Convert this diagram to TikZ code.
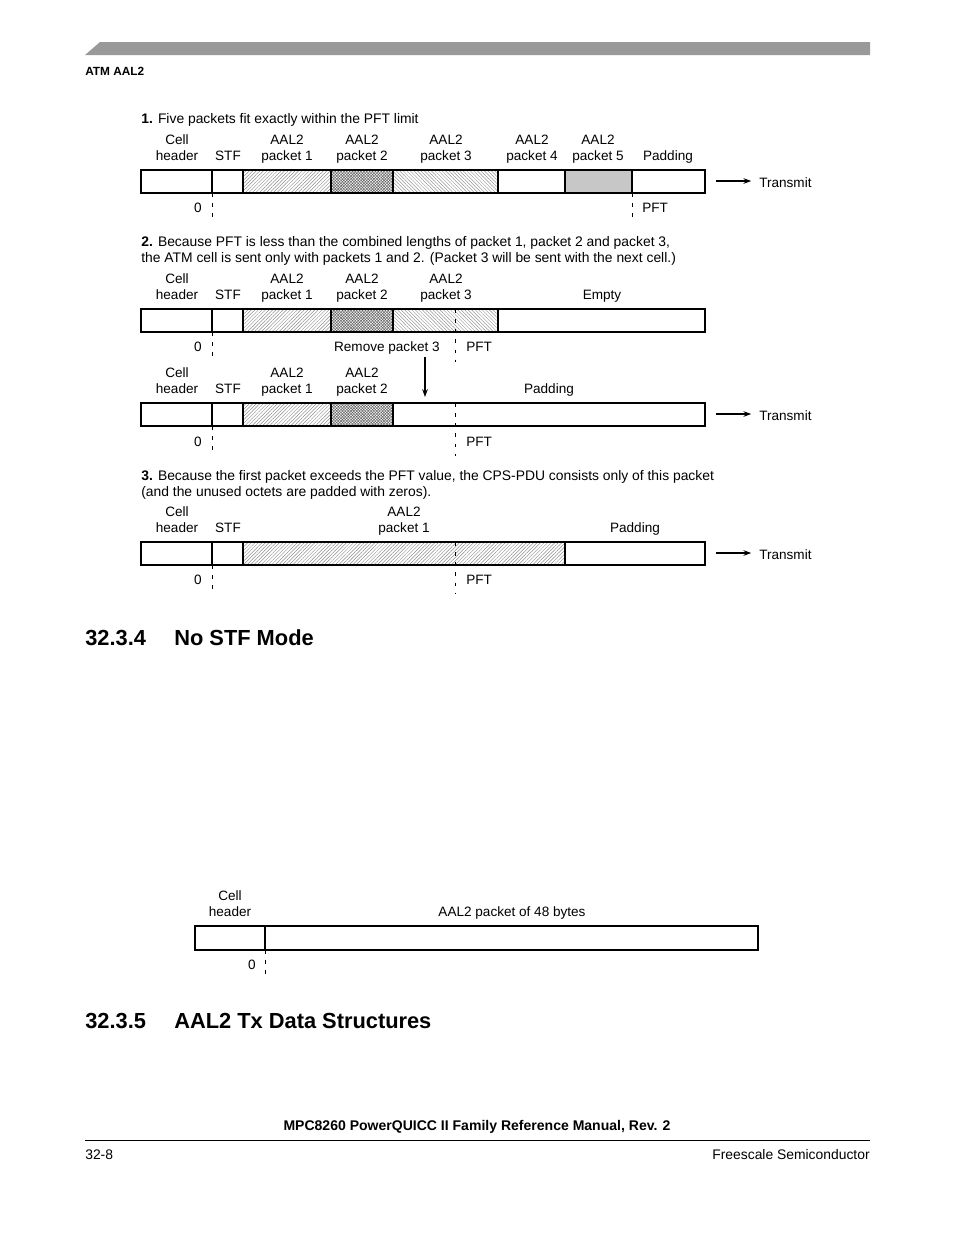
\documentclass[tikz,border=0pt]{standalone}
\usepackage{fontspec}
\setmainfont{Liberation Sans}
\usepackage{tikz}
\usetikzlibrary{arrows.meta, patterns.meta}

\tikzset{
  lbl/.style={font=\fontsize{8.7}{10.3}\selectfont, align=center, inner sep=0pt, yshift=-0.9pt},
  txt/.style={font=\fontsize{8.9}{10.3}\selectfont, align=left, inner sep=0pt, yshift=-0.8pt},
  heading/.style={font=\fontsize{14}{16}\selectfont\bfseries, inner sep=0pt},
  cellbox/.style={draw=black, line width=0.7pt},
  pkta/.style={pattern={Lines[angle=45,distance=1.6pt,line width=0.3pt]}, pattern color=black!45},
  pktb/.style={pattern={Hatch[angle=45,distance=1.3pt,line width=0.35pt]}, pattern color=black!60},
  pktc/.style={pattern={Lines[angle=-45,distance=1.6pt,line width=0.3pt]}, pattern color=black!42},
  pkte/.style={fill=black!22},
  pft/.style={line width=0.5pt, dash pattern=on 2.5pt off 4pt},
  sendarrow/.style={line width=0.7pt, -{Stealth[length=5pt,width=3.6pt]}}
}

\begin{document}
\begin{tikzpicture}[x=0.6415pt, y=-0.6415pt]
\useasboundingbox (0,0) rectangle (954,1235);

% page header
\fill[black!40] (85,55) -- (100,42) -- (870,42) -- (870,55) -- cycle;
\node[font=\fontsize{7.6}{9}\selectfont\bfseries, inner sep=0pt, anchor=base west] (chap) at (85,75) {ATM AAL2};

% ---- case 1
\node[txt, anchor=base west] (cap1) at (141,122) {\textbf{1.} Five packets fit exactly within the PFT limit};
\node[lbl, anchor=base] (ch1) at (177,159) {Cell\\header};
\node[lbl, anchor=base] (stf1) at (228,159) {STF};
\node[lbl, anchor=base] (pa1) at (287,159) {AAL2\\packet 1};
\node[lbl, anchor=base] (pb1) at (362,159) {AAL2\\packet 2};
\node[lbl, anchor=base] (pc1) at (446,159) {AAL2\\packet 3};
\node[lbl, anchor=base] (pd1) at (532,159) {AAL2\\packet 4};
\node[lbl, anchor=base] (pe1) at (598,159) {AAL2\\packet 5};
\node[lbl, anchor=base] (pad1) at (668,159) {Padding};
\path[pkta] (243,170) rectangle (331,193);
\path[pktb] (331,170) rectangle (393,193);
\path[pktc] (393,170) rectangle (498,193);
\path[pkte] (565,170) rectangle (632,193);
\draw[cellbox] (141,170) rectangle (705,193);
\foreach \x in {212,243,331,393,498,565,632}
  \draw[cellbox] (\x,170) -- (\x,193);
\draw[pft] (212,193) -- (212,221);
\draw[pft] (632,193) -- (632,221);
\node[lbl, anchor=base east] (zero1) at (202,211) {0};
\node[lbl, anchor=base west] (pft1) at (642,211) {PFT};
\coordinate (tx1s) at (716,181);
\node[lbl, anchor=west] (tx1) at (759,181) {Transmit};
\draw[sendarrow, shorten >=5pt] (tx1s) -- (tx1.west |- tx1s);

% ---- case 2
\node[txt, anchor=base west] (cap2) at (141,261) {\textbf{2.} Because PFT is less than the combined lengths of packet 1, packet 2 and packet 3,\\the ATM cell is sent only with packets 1 and 2. (Packet 3 will be sent with the next cell.)};
\node[lbl, anchor=base] (ch2) at (177,298) {Cell\\header};
\node[lbl, anchor=base] (stf2) at (228,298) {STF};
\node[lbl, anchor=base] (pa2) at (287,298) {AAL2\\packet 1};
\node[lbl, anchor=base] (pb2) at (362,298) {AAL2\\packet 2};
\node[lbl, anchor=base] (pc2) at (446,298) {AAL2\\packet 3};
\node[lbl, anchor=base] (emp2) at (602,298) {Empty};
\path[pkta] (243,309) rectangle (331,332);
\path[pktb] (331,309) rectangle (393,332);
\path[pktc] (393,309) rectangle (498,332);
\draw[cellbox] (141,309) rectangle (705,332);
\foreach \x in {212,243,331,393,498}
  \draw[cellbox] (\x,309) -- (\x,332);
\draw[pft] (212,332) -- (212,361);
\draw[pft] (455,309) -- (455,362);
\node[lbl, anchor=base east] (zero2) at (202,350) {0};
\node[lbl, anchor=base east] (rm) at (440,350) {Remove packet 3};
\node[lbl, anchor=base west] (pft2) at (466,350) {PFT};
\coordinate (rms) at (425,357);
\coordinate (rme) at (425,397);
\draw[sendarrow] (rms) -- (rme);

\node[lbl, anchor=base] (ch3) at (177,392) {Cell\\header};
\node[lbl, anchor=base] (stf3) at (228,392) {STF};
\node[lbl, anchor=base] (pa3) at (287,392) {AAL2\\packet 1};
\node[lbl, anchor=base] (pb3) at (362,392) {AAL2\\packet 2};
\node[lbl, anchor=base] (pad3) at (549,392) {Padding};
\path[pkta] (243,403) rectangle (331,426);
\path[pktb] (331,403) rectangle (393,426);
\draw[cellbox] (141,403) rectangle (705,426);
\foreach \x in {212,243,331,393}
  \draw[cellbox] (\x,403) -- (\x,426);
\draw[pft] (212,426) -- (212,454);
\draw[pft] (455,403) -- (455,456);
\node[lbl, anchor=base east] (zero3) at (202,445) {0};
\node[lbl, anchor=base west] (pft3) at (466,445) {PFT};
\coordinate (tx3s) at (716,414);
\node[lbl, anchor=west] (tx3) at (759,414) {Transmit};
\draw[sendarrow, shorten >=5pt] (tx3s) -- (tx3.west |- tx3s);

% ---- case 3
\node[txt, anchor=base west] (cap3) at (141,495) {\textbf{3.} Because the first packet exceeds the PFT value, the CPS-PDU consists only of this packet\\(and the unused octets are padded with zeros).};
\node[lbl, anchor=base] (ch4) at (177,531) {Cell\\header};
\node[lbl, anchor=base] (stf4) at (228,531) {STF};
\node[lbl, anchor=base] (pa4) at (404,531) {AAL2\\packet 1};
\node[lbl, anchor=base] (pad4) at (635,531) {Padding};
\path[pkta] (243,542) rectangle (565,565);
\draw[cellbox] (141,542) rectangle (705,565);
\foreach \x in {212,243,565}
  \draw[cellbox] (\x,542) -- (\x,565);
\draw[pft] (212,565) -- (212,593);
\draw[pft] (455,542) -- (455,593);
\node[lbl, anchor=base east] (zero4) at (202,583) {0};
\node[lbl, anchor=base west] (pft4) at (466,583) {PFT};
\coordinate (tx4s) at (716,553);
\node[lbl, anchor=west] (tx4) at (759,553) {Transmit};
\draw[sendarrow, shorten >=5pt] (tx4s) -- (tx4.west |- tx4s);

% ---- 32.3.4
\node[heading, anchor=base west] (h1num) at (85,645) {32.3.4};
\node[heading, anchor=base west] (h1) at (174,645) {No STF Mode};

\node[lbl, anchor=base] (ch5) at (230,915) {Cell\\header};
\node[lbl, anchor=base] (pk5) at (512,915) {AAL2 packet of 48 bytes};
\draw[cellbox] (195,926) rectangle (758,950);
\draw[cellbox] (265,926) -- (265,950);
\draw[pft] (265,950) -- (265,978);
\node[lbl, anchor=base east] (zero5) at (256,968) {0};

% ---- 32.3.5
\node[heading, anchor=base west] (h2num) at (85,1028) {32.3.5};
\node[heading, anchor=base west] (h2) at (174,1028) {AAL2 Tx Data Structures};

% page footer
\node[font=\fontsize{9}{10}\selectfont\bfseries, inner sep=0pt, anchor=base] (man) at (477,1130) {MPC8260 PowerQUICC II Family Reference Manual, Rev. 2};
\draw[line width=0.6pt] (85,1140) -- (870,1140);
\node[txt, anchor=base west] (pg) at (85,1158) {32-8};
\node[txt, anchor=base east] (fs) at (870,1158) {Freescale Semiconductor};
\end{tikzpicture}
\end{document}
